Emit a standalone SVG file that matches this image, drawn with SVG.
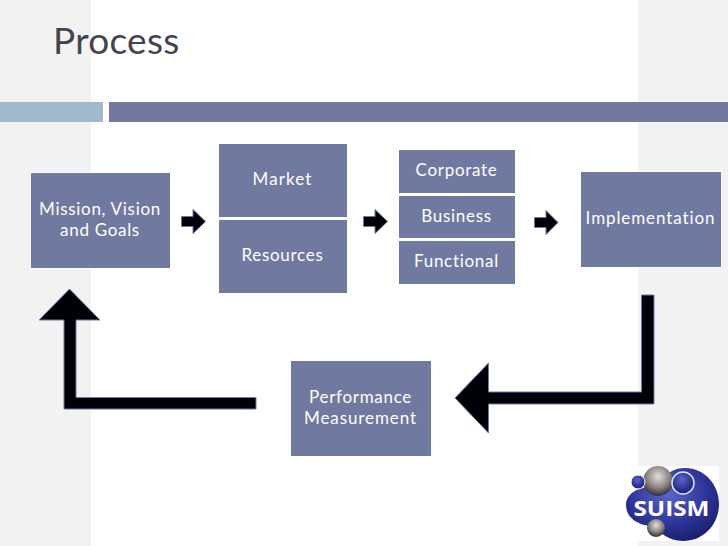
<svg xmlns="http://www.w3.org/2000/svg" width="728" height="546" viewBox="0 0 728 546">
<style>
.box{fill:#70799f;stroke:#fff;stroke-width:1}
.t{font-family:"Lato","Liberation Sans",sans-serif;font-size:17px;fill:#fff;text-anchor:middle;letter-spacing:.7px}
.arrow{fill:#000008;stroke:#70799f;stroke-width:1}
</style>
<defs>
<radialGradient id="g" cx=".5" cy=".35" r=".7"><stop offset="0" stop-color="#e4dfdc"/><stop offset=".55" stop-color="#8a8280"/><stop offset="1" stop-color="#1c1c24"/></radialGradient>
<radialGradient id="b" cx=".45" cy=".35" r=".75"><stop offset="0" stop-color="#5a66cc"/><stop offset=".6" stop-color="#2a3194"/><stop offset="1" stop-color="#141a60"/></radialGradient>
</defs>
<rect width="728" height="546" fill="#fff"/>
<rect width="91" height="546" fill="#f2f2f2"/>
<rect x="638" width="90" height="546" fill="#f2f2f2"/>
<text x="53" y="54" font-family="Lato,'Liberation Sans',sans-serif" font-size="37" fill="#45434f" letter-spacing="0.300">Process</text>
<rect y="102" width="103" height="20" fill="#a0b9cf"/>
<rect x="109" y="102" width="619" height="20" fill="#70799f"/>
<g id="connectors">
<path class="arrow" d="M181.500 216.500H193V209.500L205.500 221.500L193 233.500V226.500H181.500Z"/>
<path class="arrow" d="M363.500 216.500H375V209.500L387.500 221.500L375 233.500V226.500H363.500Z"/>
<path class="arrow" d="M534.500 217.500H546V210.500L558 222.500L546 234.500V227.500H534.500Z"/>
<path class="arrow" d="M256 397.500V409H64V320H39L69.500 289L100 320H76V397.500Z"/>
<path class="arrow" d="M641.500 295H654V404H488.500V433L455 398L488.500 363V392H641.500Z"/>
</g>
<g id="mission"><rect class="box" x="30.500" y="172.500" width="140" height="96"/><text class="t" x="100" y="215">Mission, Vision</text><text class="t" x="100" y="236">and Goals</text></g>
<g id="market"><rect class="box" x="218.500" y="143.500" width="129" height="74"/><text class="t" x="282.500" y="185" style="letter-spacing:1.100px">Market</text></g>
<g id="resources"><rect class="box" x="218.500" y="219.500" width="129" height="74"/><text class="t" x="282.500" y="261">Resources</text></g>
<g id="corporate"><rect class="box" x="398.500" y="149.500" width="117" height="44"/><text class="t" x="456.500" y="176">Corporate</text></g>
<g id="business"><rect class="box" x="398.500" y="195.500" width="117" height="43"/><text class="t" x="456.500" y="222">Business</text></g>
<g id="functional"><rect class="box" x="398.500" y="240.500" width="117" height="44"/><text class="t" x="456.500" y="267">Functional</text></g>
<g id="implementation"><rect class="box" x="580.500" y="171.500" width="141" height="96"/><text class="t" x="650.500" y="224" style="letter-spacing:.9px">Implementation</text></g>
<g id="performance"><rect class="box" x="290.500" y="360.500" width="141" height="96"/><text class="t" x="360.500" y="403">Performance</text><text class="t" x="360.500" y="424" style="letter-spacing:.9px">Measurement</text></g>
<g id="logo">
<rect x="625" y="466" width="94" height="75" fill="#fff"/>
<path d="M685 468C705 468 719 485 719 504C719 524 704 541 683 541C668 541 660 532 653 526C642 526 626 520 626 505C626 494 638 487 650 487C660 487 664 468 685 468Z" fill="url(#b)"/>
<circle cx="658" cy="481" r="15" fill="url(#g)"/>
<circle cx="638" cy="482" r="7" fill="url(#b)" stroke="#fff"/>
<circle cx="683" cy="483" r="11" fill="url(#b)" stroke="#dfe2f5" stroke-width="1.500"/>
<circle cx="656" cy="528" r="9" fill="url(#g)"/>
<text x="671.500" y="516" font-family="'Open Sans','Liberation Sans',sans-serif" font-weight="700" font-size="22" fill="#fff" text-anchor="middle" textLength="76" lengthAdjust="spacingAndGlyphs">SUISM</text>
</g>
</svg>
